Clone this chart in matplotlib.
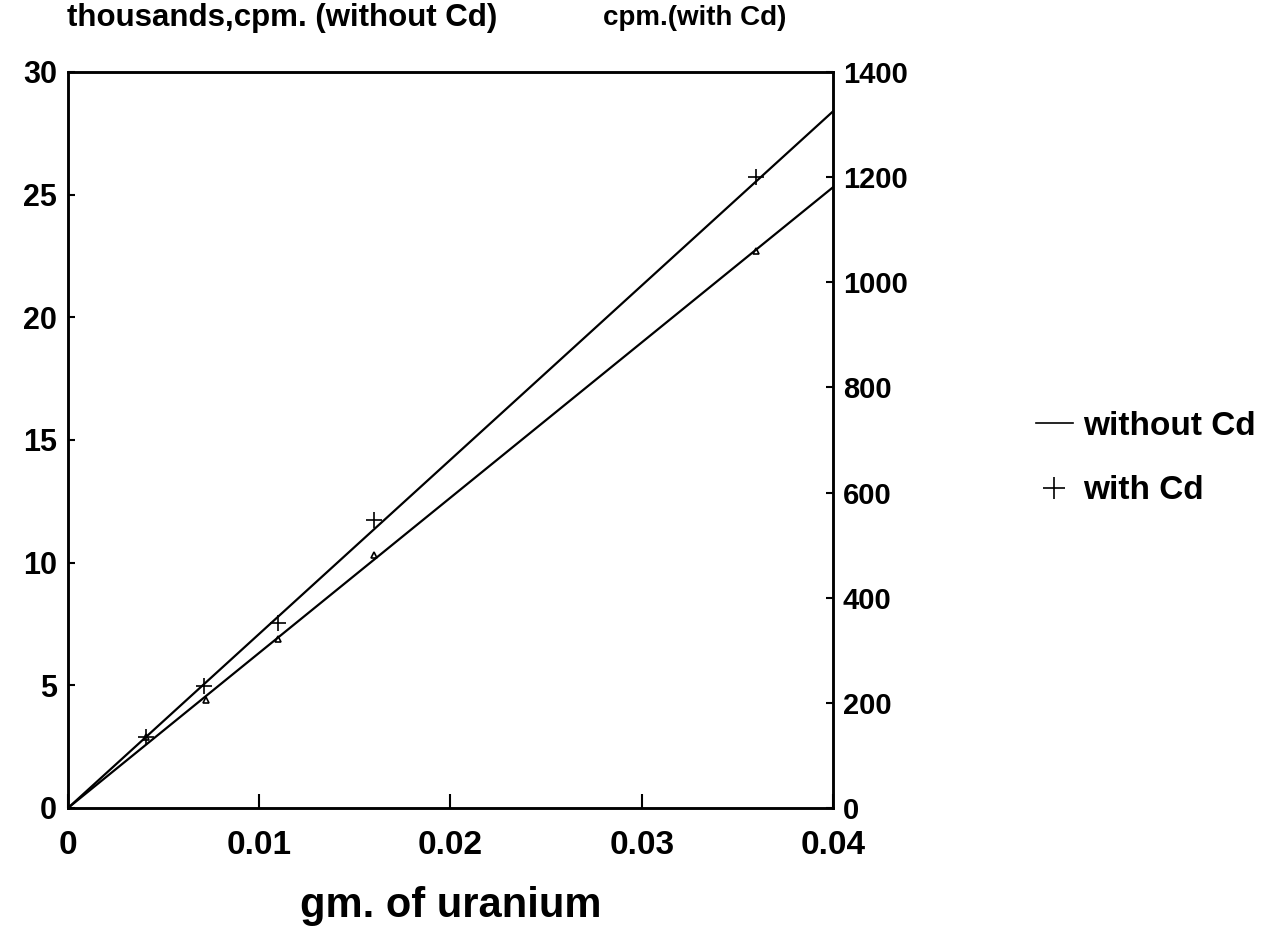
import matplotlib
matplotlib.use("Agg")
import matplotlib.pyplot as plt

plt.rcParams['font.family'] = ['Liberation Sans', 'DejaVu Sans']
plt.rcParams['font.weight'] = 'bold'

# measured points (gm of uranium)
x_without = [0.0041, 0.0072, 0.0110, 0.0160, 0.0360]
cpm_without = [2.9, 4.4, 6.9, 10.3, 22.7]      # thousands cpm
x_with = [0.0041, 0.0071, 0.0110, 0.0160, 0.0360]
cpm_with = [135, 232, 352, 548, 1200]          # cpm

# drawn straight lines through origin
fit_x = [0, 0.04]
fit_without = [0, 25.3]
fit_with = [0, 1325]

fig = plt.figure(figsize=(12.88, 9.46), dpi=100)
ax = fig.add_axes([0.0528, 0.1459, 0.5939, 0.778])
ax2 = ax.twinx()

ax.plot(fit_x, fit_without, color='black', lw=1.6)
ax.plot(x_without, cpm_without, linestyle='none', marker='^', ms=5,
        mfc='none', mec='black', mew=1.2)
ax2.plot(fit_x, fit_with, color='black', lw=1.6)
ax2.plot(x_with, cpm_with, linestyle='none', marker='+', ms=12,
         color='black', mew=1.2)

ax.set_xlim(0, 0.04)
ax.set_ylim(0, 30)
ax2.set_ylim(0, 1400)
ax.set_xticks([0, 0.01, 0.02, 0.03, 0.04])
ax.set_xticklabels(['0', '0.01', '0.02', '0.03', '0.04'])
ax.set_yticks([0, 5, 10, 15, 20, 25, 30])
ax2.set_yticks([0, 200, 400, 600, 800, 1000, 1200, 1400])

ax.tick_params(axis='x', direction='in', length=10, width=1.5,
               labelsize=24, pad=16)
ax.tick_params(axis='y', direction='in', length=5, width=1.5,
               labelsize=22, pad=8)
ax2.tick_params(axis='y', direction='in', length=5, width=1.5,
                labelsize=21, pad=7)
for a in (ax, ax2):
    for s in a.spines.values():
        s.set_linewidth(1.8)
    for lab in a.get_xticklabels() + a.get_yticklabels():
        lab.set_fontweight('bold')

ax.set_xlabel('gm. of uranium', fontsize=30, fontweight='bold', labelpad=18)
fig.text(0.052, 0.981, 'thousands,cpm. (without Cd)', fontsize=22.5,
         fontweight='bold', va='center', ha='left')
fig.text(0.468, 0.981, 'cpm.(with Cd)', fontsize=20,
         fontweight='bold', va='center', ha='left')

h1, = ax.plot([], [], color='black', lw=1.2)
h2, = ax.plot([], [], linestyle='none', marker='+', ms=16, color='black', mew=1.2)
fig.legend([h1, h2], ['without Cd', 'with Cd'], loc='center left',
           bbox_to_anchor=(0.781, 0.515), frameon=False, fontsize=24,
           handlelength=1.1, handletextpad=0.3, labelspacing=1.0)

fig.savefig('out.png', dpi=100)
